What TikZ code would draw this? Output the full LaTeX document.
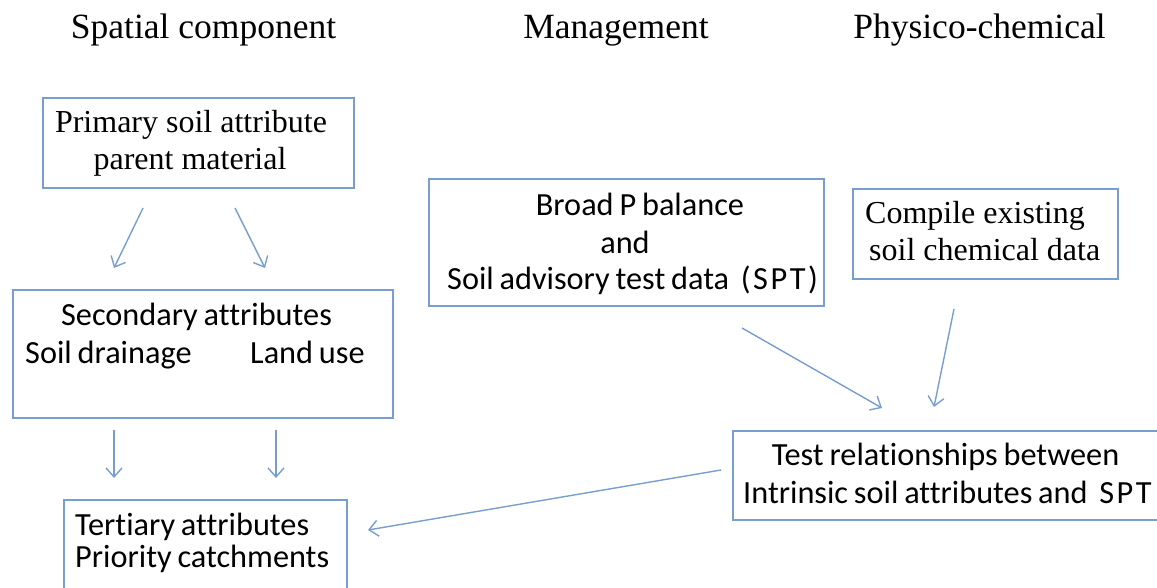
\documentclass[tikz,border=0pt]{standalone}
\usepackage{fontspec}
\setmainfont{Liberation Serif}
\newfontfamily\calib[Ligatures={NoCommon},WordSpace=0.8]{Carlito}
\usetikzlibrary{arrows.meta}
\definecolor{boxblue}{RGB}{120,158,208}
\tikzset{
  box/.style={draw=boxblue, line width=1.5pt, inner sep=0pt, anchor=north west},
  hdr/.style={font=\fontsize{35.5}{40}\selectfont, inner sep=0pt, anchor=base},
  serif/.style={font=\fontsize{32}{36}\selectfont, inner sep=0pt},
  sans/.style={font=\calib\fontsize{32.3}{36}\selectfont, inner sep=0pt},
  arr/.style={draw=boxblue, line width=1.4pt, -{Straight Barb[length=9pt,width=16pt,line width=1.4pt]}},
}
\begin{document}
\begin{tikzpicture}[x=1pt,y=-1pt]
\useasboundingbox (0,0) rectangle (1157,587);
\clip (0,0) rectangle (1157,587);
% headers
\node[hdr] (h1) at (203.5,38) {Spatial component};
\node[hdr] (h2) at (616,38) {Management};
\node[hdr] (h3) at (979.5,38) {Physico-chemical};
% boxes
\node[box, minimum width=311pt, minimum height=90pt] (prim) at (42,97) {};
\node[box, minimum width=380pt, minimum height=128pt] (sec) at (12,289) {};
\node[box, minimum width=283pt, minimum height=120pt] (ter) at (63,499) {};
\node[box, minimum width=395pt, minimum height=127pt] (broad) at (428,178) {};
\node[box, minimum width=265pt, minimum height=90pt] (comp) at (852,188) {};
\node[box, minimum width=460pt, minimum height=89pt] (test) at (732,430) {};
% texts
\node[serif, anchor=base] (p1) at (191,132) {Primary soil attribute};
\node[serif, anchor=base] (p2) at (190,169) {parent material};
\node[sans, anchor=base] (s1) at (196.5,325) {Secondary attributes};
\node[sans, anchor=base west] (s2) at (25,363) {Soil drainage};
\node[sans, anchor=base west] (s3) at (250,363) {Land use};
\node[sans, anchor=base west] (t1) at (75,535) {Tertiary attributes};
\node[sans, anchor=base west] (t2) at (75,567) {Priority catchments};
\node[sans, anchor=base] (b1) at (640,215) {Broad P balance};
\node[sans, anchor=base] (b2) at (625,253) {and};
\node[sans, anchor=base west] (b3) at (447,289) {Soil advisory test data \ {\addfontfeatures{LetterSpace=8}(SPT)}};
\node[serif, anchor=base west] (c1) at (865,223) {Compile existing};
\node[serif, anchor=base west] (c2) at (869,260) {soil chemical data};
\node[sans, anchor=base] (r1) at (945.5,465) {Test relationships between};
\node[sans, anchor=base west] (r2) at (743,503) {Intrinsic soil attributes and \ {\addfontfeatures{LetterSpace=8}SPT}};
% connector endpoints
\coordinate (a1s) at (143,208); \coordinate (a1e) at (114,268);
\coordinate (a2s) at (235,208); \coordinate (a2e) at (265,268);
\coordinate (a3s) at (114,430); \coordinate (a3e) at (114,478);
\coordinate (a4s) at (276,430); \coordinate (a4e) at (276,478);
\coordinate (a5s) at (742,328); \coordinate (a5e) at (882,408);
\coordinate (a6s) at (954,309); \coordinate (a6e) at (934,407);
\coordinate (a7s) at (721,470); \coordinate (a7e) at (368,530);
\draw[arr] (a1s) -- (a1e);
\draw[arr] (a2s) -- (a2e);
\draw[arr] (a3s) -- (a3e);
\draw[arr] (a4s) -- (a4e);
\draw[arr] (a5s) -- (a5e);
\draw[arr] (a6s) -- (a6e);
\draw[arr] (a7s) -- (a7e);
\end{tikzpicture}
\end{document}
